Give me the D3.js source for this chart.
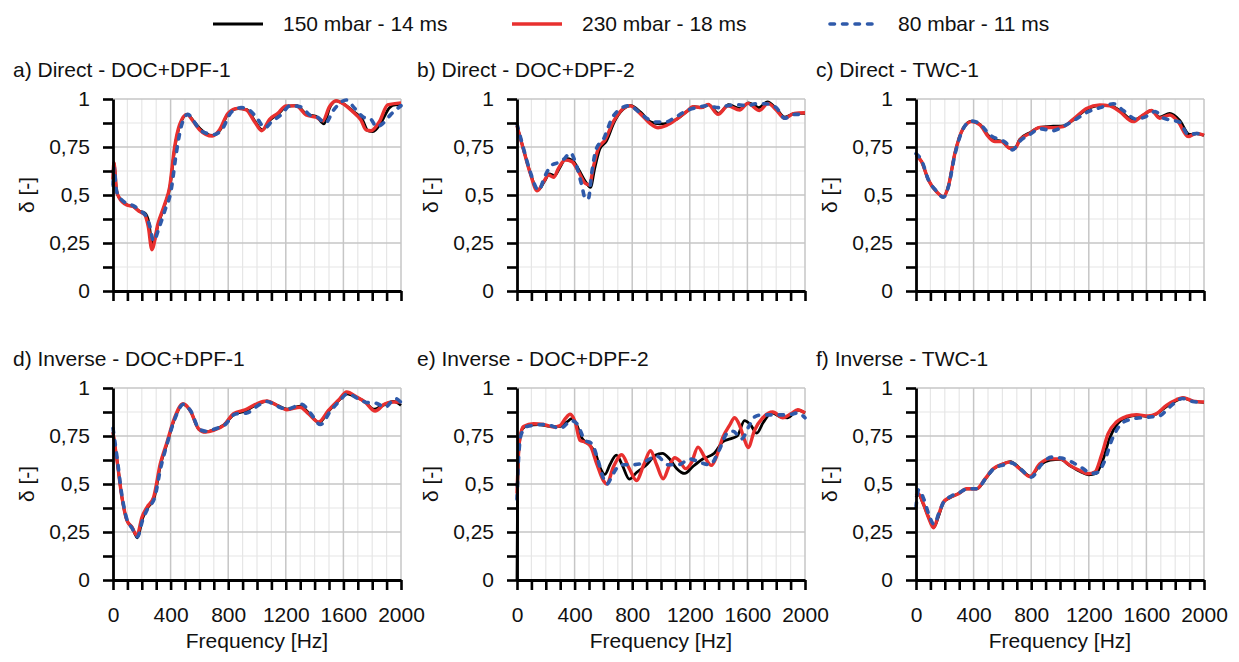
<!DOCTYPE html>
<html>
<head>
<meta charset="utf-8">
<script src="https://cdn.jsdelivr.net/npm/d3@7"></script>
<style>
  body { margin: 0; background: #fff; }
  text { font-family: "Liberation Sans", Arial, sans-serif; fill: #111; }
</style>
</head>
<body>
<svg id="chart" width="1239" height="662"></svg>
<script>
// series labels
const seriesNames = ["150 mbar - 14 ms", "230 mbar - 18 ms", "80 mbar - 11 ms"];
const panelTitles = ["a) Direct - DOC+DPF-1", "b) Direct - DOC+DPF-2", "c) Direct - TWC-1",
                     "d) Inverse - DOC+DPF-1", "e) Inverse - DOC+DPF-2", "f) Inverse - TWC-1"];
const xTickLabels = [0, 400, 800, 1200, 1600, 2000];
const yTickLabels = [0, 0.25, 0.5, 0.75, 1];

// [frequency Hz, delta]
const a150 = [[0,0.58],[6,0.67],[25,0.52],[40,0.49],[95,0.45],[140,0.44],[185,0.415],[222,0.405],[248,0.36],[274,0.24],[315,0.35],[360,0.45],[395,0.54],[430,0.75],[465,0.865],[515,0.92],[560,0.885],[605,0.845],[690,0.81],[745,0.84],[800,0.925],[870,0.95],[930,0.945],[985,0.885],[1038,0.84],[1090,0.89],[1150,0.925],[1205,0.96],[1275,0.965],[1345,0.92],[1410,0.91],[1465,0.87],[1505,0.955],[1552,0.99],[1600,0.975],[1670,0.935],[1730,0.895],[1770,0.835],[1805,0.83],[1860,0.875],[1920,0.955],[1960,0.97],[2000,0.97]];
const a230 = [[0,0.58],[6,0.67],[25,0.52],[40,0.49],[95,0.448],[140,0.44],[185,0.413],[220,0.398],[245,0.335],[270,0.215],[312,0.35],[358,0.45],[393,0.54],[428,0.75],[462,0.865],[513,0.92],[560,0.88],[601,0.84],[689,0.807],[740,0.84],[798,0.925],[867,0.951],[925,0.943],[983,0.882],[1033,0.835],[1087,0.894],[1144,0.925],[1202,0.964],[1272,0.964],[1341,0.917],[1410,0.905],[1457,0.887],[1503,0.96],[1549,0.991],[1595,0.977],[1665,0.934],[1722,0.89],[1757,0.839],[1792,0.835],[1850,0.882],[1907,0.969],[2000,0.98]];
const a80 = [[0,0.55],[6,0.64],[25,0.52],[45,0.49],[100,0.455],[140,0.445],[185,0.42],[230,0.39],[255,0.34],[282,0.26],[320,0.33],[365,0.43],[400,0.51],[440,0.72],[475,0.86],[520,0.92],[560,0.885],[610,0.835],[700,0.815],[760,0.845],[820,0.93],[890,0.955],[950,0.94],[1000,0.9],[1055,0.85],[1100,0.88],[1170,0.92],[1230,0.965],[1300,0.96],[1370,0.915],[1420,0.905],[1475,0.875],[1530,0.94],[1620,0.995],[1680,0.95],[1740,0.905],[1790,0.895],[1830,0.855],[1870,0.87],[1930,0.92],[2000,0.965]];

const b150 = [[0,0.86],[46,0.735],[92,0.615],[145,0.525],[190,0.57],[225,0.61],[260,0.6],[295,0.64],[340,0.69],[385,0.68],[430,0.63],[475,0.57],[510,0.54],[540,0.64],[575,0.74],[620,0.78],[675,0.88],[735,0.945],[790,0.965],[860,0.93],[930,0.88],[990,0.87],[1050,0.875],[1110,0.895],[1180,0.935],[1230,0.96],[1285,0.955],[1330,0.97],[1400,0.925],[1470,0.97],[1550,0.95],[1610,0.98],[1680,0.955],[1740,0.985],[1800,0.95],[1860,0.905],[1930,0.925],[2000,0.925]];
const b230 = [[0,0.86],[46,0.734],[92,0.613],[140,0.522],[185,0.569],[219,0.604],[254,0.592],[288,0.639],[335,0.682],[381,0.674],[427,0.622],[473,0.561],[503,0.552],[531,0.648],[565,0.743],[611,0.786],[669,0.882],[727,0.943],[784,0.964],[854,0.925],[923,0.873],[980,0.85],[1038,0.862],[1107,0.894],[1177,0.934],[1223,0.96],[1280,0.955],[1327,0.972],[1396,0.92],[1465,0.964],[1546,0.943],[1603,0.977],[1684,0.94],[1742,0.977],[1800,0.943],[1857,0.9],[1926,0.925],[2000,0.928]];
const b80 = [[0,0.87],[46,0.74],[92,0.62],[150,0.525],[195,0.6],[240,0.655],[290,0.67],[330,0.69],[370,0.72],[410,0.66],[450,0.55],[475,0.48],[495,0.48],[520,0.62],[550,0.74],[600,0.79],[660,0.9],[720,0.95],[780,0.965],[850,0.93],[900,0.9],[960,0.88],[1030,0.88],[1100,0.905],[1180,0.94],[1250,0.955],[1320,0.965],[1400,0.955],[1460,0.965],[1530,0.97],[1600,0.965],[1660,0.975],[1730,0.975],[1800,0.955],[1860,0.9],[1930,0.92],[2000,0.92]];

const c150 = [[0,0.708],[39,0.674],[86,0.578],[143,0.517],[190,0.491],[224,0.543],[270,0.717],[328,0.847],[386,0.885],[444,0.868],[502,0.81],[548,0.785],[594,0.78],[652,0.745],[687,0.745],[721,0.79],[791,0.825],[860,0.852],[953,0.858],[1022,0.86],[1091,0.89],[1184,0.945],[1276,0.965],[1346,0.965],[1415,0.94],[1507,0.89],[1577,0.915],[1635,0.94],[1692,0.905],[1762,0.925],[1830,0.89],[1900,0.815],[1950,0.82],[2000,0.81]];
const c230 = [[0,0.708],[39,0.674],[86,0.578],[143,0.517],[190,0.491],[224,0.543],[270,0.717],[328,0.847],[386,0.882],[444,0.865],[502,0.804],[548,0.778],[594,0.778],[652,0.743],[687,0.743],[721,0.786],[791,0.821],[860,0.852],[953,0.851],[1022,0.856],[1091,0.894],[1184,0.951],[1276,0.969],[1346,0.964],[1415,0.934],[1507,0.882],[1577,0.917],[1635,0.94],[1692,0.9],[1762,0.917],[1820,0.882],[1889,0.804],[1947,0.821],[2000,0.812]];
const c80 = [[0,0.715],[39,0.68],[86,0.58],[143,0.52],[190,0.488],[224,0.54],[270,0.71],[328,0.845],[386,0.885],[444,0.87],[510,0.815],[570,0.79],[620,0.775],[670,0.735],[720,0.78],[790,0.815],[860,0.845],[950,0.835],[1030,0.86],[1100,0.89],[1200,0.935],[1280,0.955],[1370,0.975],[1440,0.94],[1530,0.895],[1600,0.91],[1660,0.935],[1720,0.9],[1770,0.89],[1830,0.88],[1890,0.815],[1950,0.82],[2000,0.81]];

const d150 = [[0,0.77],[28,0.623],[62,0.431],[97,0.31],[132,0.275],[170,0.22],[205,0.32],[240,0.375],[285,0.425],[330,0.6],[377,0.715],[423,0.83],[488,0.915],[538,0.88],[596,0.785],[642,0.772],[700,0.782],[770,0.808],[840,0.862],[920,0.88],[1000,0.915],[1070,0.932],[1140,0.91],[1210,0.89],[1300,0.905],[1360,0.87],[1430,0.82],[1498,0.88],[1568,0.935],[1625,0.97],[1695,0.95],[1755,0.925],[1810,0.89],[1889,0.915],[1947,0.93],[2000,0.91]];
const d230 = [[0,0.77],[28,0.623],[62,0.431],[97,0.31],[132,0.275],[166,0.231],[201,0.327],[236,0.379],[282,0.431],[328,0.605],[375,0.718],[421,0.831],[486,0.918],[536,0.883],[594,0.788],[640,0.77],[698,0.779],[768,0.805],[837,0.866],[918,0.887],[999,0.918],[1068,0.932],[1137,0.91],[1207,0.887],[1299,0.9],[1357,0.866],[1427,0.823],[1496,0.883],[1565,0.936],[1623,0.979],[1692,0.953],[1750,0.927],[1820,0.88],[1889,0.918],[1947,0.927],[2000,0.927]];
const d80 = [[0,0.79],[28,0.64],[62,0.44],[97,0.315],[132,0.27],[170,0.225],[205,0.31],[240,0.37],[290,0.43],[330,0.58],[380,0.72],[425,0.83],[490,0.915],[540,0.88],[600,0.785],[650,0.775],[700,0.785],[780,0.81],[850,0.865],[930,0.87],[1000,0.905],[1068,0.93],[1140,0.905],[1210,0.89],[1310,0.915],[1370,0.87],[1440,0.81],[1510,0.88],[1570,0.93],[1630,0.97],[1700,0.945],[1760,0.925],[1830,0.92],[1890,0.9],[1960,0.945],[2000,0.925]];

const e150 = [[0,0.0],[4,0.45],[15,0.7],[40,0.79],[80,0.805],[150,0.81],[230,0.8],[300,0.8],[350,0.825],[380,0.84],[410,0.815],[450,0.74],[500,0.705],[545,0.66],[580,0.58],[610,0.55],[645,0.6],[690,0.65],[730,0.6],[780,0.525],[830,0.56],[900,0.6],[960,0.65],[1010,0.66],[1060,0.63],[1110,0.58],[1165,0.555],[1220,0.59],[1290,0.63],[1370,0.66],[1430,0.72],[1480,0.735],[1530,0.75],[1580,0.83],[1620,0.81],[1665,0.765],[1710,0.82],[1770,0.87],[1830,0.85],[1880,0.845],[1950,0.885],[2000,0.87]];
const e230 = [[0,0.45],[8,0.62],[20,0.74],[45,0.8],[115,0.814],[185,0.81],[254,0.797],[300,0.805],[335,0.84],[369,0.863],[404,0.823],[438,0.727],[473,0.718],[508,0.7],[554,0.605],[600,0.518],[623,0.5],[669,0.588],[727,0.652],[780,0.58],[830,0.518],[880,0.6],[927,0.673],[970,0.6],[1015,0.527],[1060,0.6],[1096,0.637],[1130,0.62],[1170,0.58],[1211,0.61],[1257,0.692],[1303,0.64],[1350,0.597],[1384,0.64],[1430,0.744],[1476,0.805],[1511,0.845],[1546,0.805],[1580,0.73],[1605,0.69],[1649,0.779],[1707,0.845],[1776,0.875],[1846,0.845],[1903,0.866],[1950,0.887],[2000,0.87]];
const e80 = [[0,0.42],[10,0.62],[30,0.76],[70,0.8],[200,0.81],[300,0.79],[380,0.83],[420,0.81],[470,0.73],[520,0.71],[560,0.63],[600,0.53],[625,0.5],[665,0.55],[720,0.6],[790,0.6],[860,0.605],[920,0.63],[970,0.645],[1050,0.6],[1120,0.6],[1200,0.63],[1280,0.61],[1340,0.6],[1400,0.67],[1460,0.765],[1500,0.775],[1560,0.735],[1610,0.8],[1650,0.85],[1700,0.86],[1800,0.86],[1880,0.86],[1950,0.87],[2000,0.845]];

const f150 = [[0,0.43],[16,0.445],[51,0.395],[86,0.33],[124,0.275],[158,0.335],[192,0.405],[238,0.43],[296,0.45],[353,0.475],[423,0.475],[481,0.525],[538,0.578],[608,0.605],[655,0.617],[724,0.58],[793,0.54],[862,0.6],[932,0.625],[1001,0.628],[1070,0.595],[1140,0.565],[1200,0.548],[1250,0.555],[1300,0.63],[1345,0.74],[1400,0.815],[1465,0.848],[1535,0.858],[1615,0.852],[1672,0.866],[1742,0.905],[1810,0.935],[1856,0.948],[1926,0.93],[2000,0.925]];
const f230 = [[0,0.44],[16,0.449],[51,0.397],[86,0.327],[122,0.272],[155,0.336],[190,0.405],[236,0.431],[294,0.449],[351,0.475],[421,0.475],[479,0.527],[536,0.579],[606,0.605],[652,0.614],[721,0.579],[791,0.539],[860,0.605],[929,0.631],[999,0.631],[1068,0.597],[1138,0.57],[1195,0.553],[1242,0.562],[1288,0.649],[1334,0.762],[1392,0.823],[1461,0.852],[1531,0.861],[1612,0.854],[1669,0.866],[1739,0.91],[1808,0.939],[1854,0.95],[1924,0.932],[2000,0.927]];
const f80 = [[0,0.38],[18,0.47],[55,0.42],[90,0.34],[125,0.29],[160,0.35],[195,0.41],[240,0.435],[300,0.455],[360,0.475],[425,0.475],[480,0.525],[540,0.58],[610,0.6],[660,0.61],[730,0.575],[800,0.535],[870,0.6],[940,0.64],[1010,0.635],[1080,0.615],[1150,0.585],[1220,0.555],[1260,0.56],[1310,0.62],[1360,0.73],[1410,0.8],[1480,0.835],[1560,0.845],[1640,0.85],[1690,0.855],[1760,0.9],[1850,0.945],[1920,0.93],[2000,0.925]];

const panelData = [[a150, a230, a80], [b150, b230, b80], [c150, c230, c80],
                   [d150, d230, d80], [e150, e230, e80], [f150, f230, f80]];

const seriesStyle = [
    { color: "#000000", width: 2.8, dash: null },
    { color: "#e8302f", width: 3.4, dash: null },
    { color: "#2f5aaa", width: 3.6, dash: "4.5,8" }
];

const svg = d3.select("#chart");
const fontSize = 21;
const colLeft = [113, 517, 916];
const rowTop = [99, 388];
const pw = 288, ph = 192;

// legend
const legendX = [213, 512, 828];
const legend = svg.selectAll(".legend")
    .data(seriesNames)
    .enter().append("g")
    .attr("class", "legend")
    .attr("transform", (d, i) => "translate(" + legendX[i] + ",24)");
legend.append("line")
    .attr("x1", (d, i) => i == 2 ? 2 : 0).attr("x2", 50)
    .attr("stroke", (d, i) => seriesStyle[i].color)
    .attr("stroke-width", (d, i) => seriesStyle[i].width)
    .attr("stroke-linecap", (d, i) => i == 2 ? "round" : "butt")
    .attr("stroke-dasharray", (d, i) => seriesStyle[i].dash);
legend.append("text")
    .attr("x", 70).attr("y", 7)
    .style("font-size", fontSize + "px")
    .text(d => d);

const fmt = d => String(d).replace(".", ",");
const minorX = d3.range(0, 2001, 100);
const minorY = d3.range(0, 1.001, 0.125);

panelData.forEach((series, p) => {
    const col = p % 3, row = Math.floor(p / 3);
    const g = svg.append("g")
        .attr("transform", "translate(" + colLeft[col] + "," + rowTop[row] + ")");

    const x = d3.scaleLinear().domain([0, 2000]).range([0, pw]);
    const y = d3.scaleLinear().domain([0, 1]).range([ph, 0]);

    // grid
    g.append("g").selectAll("line")
        .data(minorX.filter(v => v % 400 != 0))
        .enter().append("line")
        .attr("x1", d => x(d)).attr("x2", d => x(d))
        .attr("y1", 0).attr("y2", ph)
        .attr("stroke", "#e6e6e6").attr("stroke-width", 1.2);
    g.append("g").selectAll("line")
        .data(minorY.filter(v => Math.abs(v * 4 - Math.round(v * 4)) > 0.01))
        .enter().append("line")
        .attr("x1", 0).attr("x2", pw)
        .attr("y1", d => y(d)).attr("y2", d => y(d))
        .attr("stroke", "#e6e6e6").attr("stroke-width", 1.2);
    g.append("g").selectAll("line")
        .data(xTickLabels.slice(1))
        .enter().append("line")
        .attr("x1", d => x(d)).attr("x2", d => x(d))
        .attr("y1", 0).attr("y2", ph)
        .attr("stroke", "#c6c6c6").attr("stroke-width", 1.5);
    g.append("g").selectAll("line")
        .data(yTickLabels.slice(1))
        .enter().append("line")
        .attr("x1", 0).attr("x2", pw)
        .attr("y1", d => y(d)).attr("y2", d => y(d))
        .attr("stroke", "#c6c6c6").attr("stroke-width", 1.5);

    // lines
    const line = d3.line()
        .x(d => x(d[0]))
        .y(d => y(d[1]))
        .curve(d3.curveMonotoneX);
    series.forEach((s, i) => {
        g.append("path")
            .datum(s)
            .attr("d", line)
            .attr("fill", "none")
            .attr("stroke", seriesStyle[i].color)
            .attr("stroke-width", seriesStyle[i].width)
            .attr("stroke-linecap", i == 2 ? "round" : "butt")
            .attr("stroke-linejoin", "round")
            .attr("stroke-dasharray", seriesStyle[i].dash);
    });

    // axes
    const yAxis = d3.axisLeft(y)
        .tickValues(minorY)
        .tickSize(10).tickSizeOuter(0).tickPadding(13)
        .tickFormat(d => yTickLabels.some(v => Math.abs(v - d) < 1e-6) ? fmt(d) : "");
    const ya = g.append("g").call(yAxis);

    const xAxis = d3.axisBottom(x)
        .tickValues(minorX)
        .tickSize(10).tickSizeOuter(0).tickPadding(17)
        .tickFormat(d => (row == 1 && xTickLabels.includes(d)) ? d : "");
    const xa = g.append("g").attr("transform", "translate(0," + ph + ")").call(xAxis);

    [ya, xa].forEach(a => {
        a.select(".domain").attr("stroke", "#000").attr("stroke-width", 2.8);
        a.selectAll(".tick line").attr("stroke", "#000").attr("stroke-width", 2.6);
        a.selectAll(".tick text").style("font-size", fontSize + "px")
            .style("font-family", '"Liberation Sans", Arial, sans-serif').attr("fill", "#111");
    });

    // titles and labels
    g.append("text")
        .attr("x", -100).attr("y", -22)
        .style("font-size", fontSize + "px")
        .text(panelTitles[p]);
    g.append("text")
        .attr("transform", "translate(-86," + (ph / 2) + ") rotate(-90)")
        .attr("text-anchor", "middle").attr("dy", "0.35em")
        .style("font-size", fontSize + "px")
        .text("δ [-]");
    if (row == 1) {
        g.append("text")
            .attr("x", pw / 2).attr("y", ph + 68)
            .attr("text-anchor", "middle")
            .style("font-size", fontSize + "px")
            .text("Frequency [Hz]");
    }
});
</script>
</body>
</html>
